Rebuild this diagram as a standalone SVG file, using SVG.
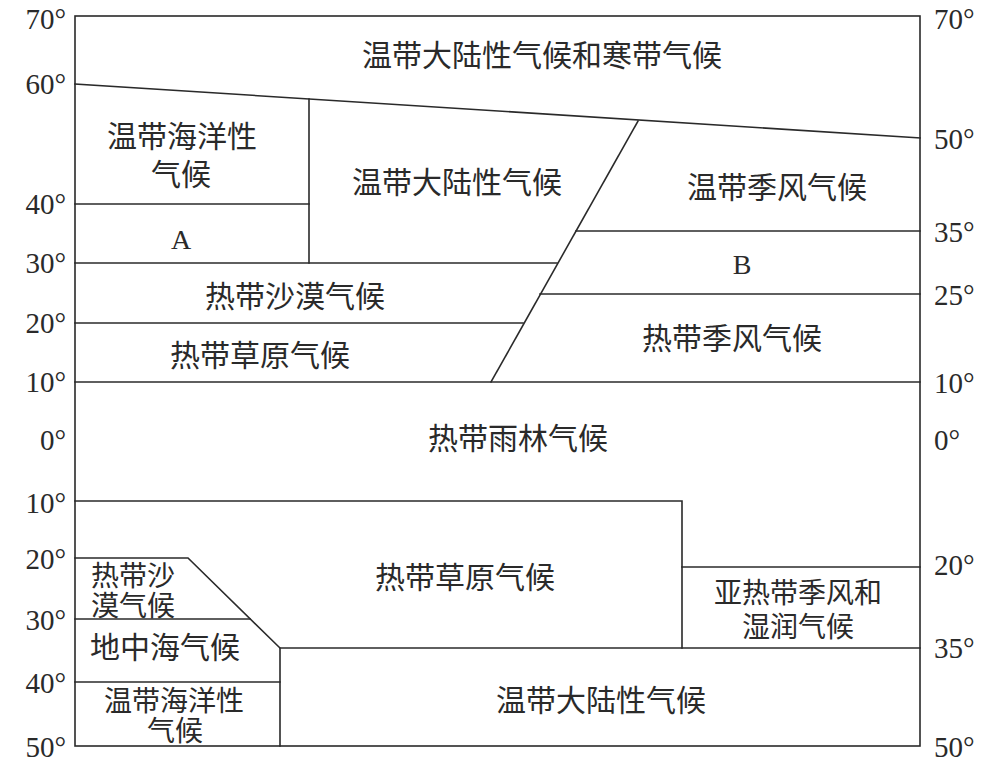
<svg xmlns="http://www.w3.org/2000/svg" width="1000" height="770" viewBox="0 0 1000 770">
<style>
.ln{stroke:#2a2a2a;stroke-width:1.6;fill:none;stroke-linecap:square}
.cn{font-family:"Noto Sans CJK SC","Noto Sans",sans-serif;font-size:30px;fill:#2a2a2a;text-anchor:middle}
.cn2{font-size:28px}
.deg{font-family:"Liberation Serif",serif;font-size:29px;fill:#2a2a2a}
.l{text-anchor:end}
.lt{font-family:"Liberation Serif",serif;font-size:28px;fill:#2a2a2a;text-anchor:middle}
</style>
<rect width="1000" height="770" fill="#ffffff"/>
<g id="connectors">
<rect class="ln" x="75" y="16" width="845" height="730"/>
<line class="ln" x1="75" y1="84" x2="920" y2="138"/>
<line class="ln" x1="309" y1="99" x2="309" y2="263"/>
<line class="ln" x1="75" y1="204" x2="309" y2="204"/>
<line class="ln" x1="75" y1="263" x2="557" y2="263"/>
<line class="ln" x1="75" y1="323" x2="523" y2="323"/>
<line class="ln" x1="638" y1="121" x2="491" y2="382"/>
<line class="ln" x1="576" y1="231" x2="920" y2="231"/>
<line class="ln" x1="540" y1="294" x2="920" y2="294"/>
<line class="ln" x1="75" y1="382" x2="920" y2="382"/>
<polyline class="ln" points="75,501 682,501 682,648"/>
<line class="ln" x1="682" y1="567" x2="920" y2="567"/>
<polyline class="ln" points="75,558 188,558 280,648 280,746"/>
<line class="ln" x1="280" y1="648" x2="920" y2="648"/>
<line class="ln" x1="75" y1="619" x2="250" y2="619"/>
<line class="ln" x1="75" y1="682" x2="280" y2="682"/>
</g>
<g id="lat-left">
<text class="deg l" x="66" y="29">70°</text>
<text class="deg l" x="66" y="94">60°</text>
<text class="deg l" x="66" y="214">40°</text>
<text class="deg l" x="66" y="273">30°</text>
<text class="deg l" x="66" y="333">20°</text>
<text class="deg l" x="66" y="392">10°</text>
<text class="deg l" x="66" y="450">0°</text>
<text class="deg l" x="66" y="513">10°</text>
<text class="deg l" x="66" y="569">20°</text>
<text class="deg l" x="66" y="630">30°</text>
<text class="deg l" x="66" y="693">40°</text>
<text class="deg l" x="66" y="757">50°</text>
</g>
<g id="lat-right">
<text class="deg" x="934" y="29">70°</text>
<text class="deg" x="934" y="149">50°</text>
<text class="deg" x="934" y="242">35°</text>
<text class="deg" x="934" y="305">25°</text>
<text class="deg" x="934" y="393">10°</text>
<text class="deg" x="934" y="450">0°</text>
<text class="deg" x="934" y="575">20°</text>
<text class="deg" x="934" y="658">35°</text>
<text class="deg" x="934" y="757">50°</text>
</g>
<g id="n-polar"><text class="cn" x="542" y="66">温带大陆性气候和寒带气候</text></g>
<g id="n-ocean-n"><text class="cn" x="182" y="147">温带海洋性</text><text class="cn" x="181" y="185">气候</text></g>
<g id="n-A"><text class="lt" x="181" y="249">A</text></g>
<g id="n-cont-n"><text class="cn" x="457" y="193">温带大陆性气候</text></g>
<g id="n-mons-temp"><text class="cn" x="777" y="198">温带季风气候</text></g>
<g id="n-B"><text class="lt" x="742" y="274">B</text></g>
<g id="n-desert-n"><text class="cn" x="295" y="307">热带沙漠气候</text></g>
<g id="n-savanna-n"><text class="cn" x="260" y="366">热带草原气候</text></g>
<g id="n-mons-trop"><text class="cn" x="732" y="349">热带季风气候</text></g>
<g id="n-rainforest"><text class="cn" x="518" y="449">热带雨林气候</text></g>
<g id="n-savanna-s"><text class="cn" x="465" y="588">热带草原气候</text></g>
<g id="n-desert-s"><text class="cn cn2" x="133" y="586">热带沙</text><text class="cn cn2" x="133" y="616">漠气候</text></g>
<g id="n-med"><text class="cn" x="165" y="658">地中海气候</text></g>
<g id="n-ocean-s"><text class="cn cn2" x="174" y="711">温带海洋性</text><text class="cn cn2" x="175" y="741">气候</text></g>
<g id="n-subtrop"><text class="cn cn2" x="798" y="603">亚热带季风和</text><text class="cn cn2" x="798" y="637">湿润气候</text></g>
<g id="n-cont-s"><text class="cn" x="601" y="711">温带大陆性气候</text></g>
</svg>
